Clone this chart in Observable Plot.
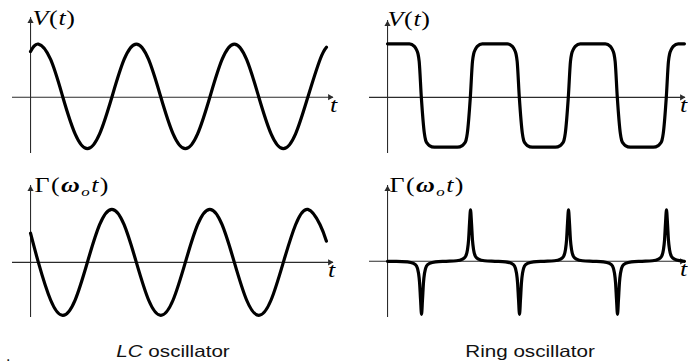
<!DOCTYPE html>
<html>
<head>
<meta charset="utf-8">
<script src="https://cdn.jsdelivr.net/npm/d3@7"></script>
<script src="https://cdn.jsdelivr.net/npm/@observablehq/plot@0.6"></script>
<style>
  html, body { margin: 0; padding: 0; background: #fff; overflow: hidden; }
  #fig { position: relative; width: 688px; height: 364px; background: #fff; }
  .cell { position: absolute; width: 344px; height: 165px; }
  .cell svg { display: block; }
  .cap {
    position: absolute; top: 342px; white-space: nowrap;
    font-family: "Liberation Sans", Arial, sans-serif; font-size: 16.5px; line-height: 19px; color: #111;
    transform: translateX(-50%) scaleX(1.25);
  }
  .stray { position: absolute; left: 6px; top: 350px; font-family: "Liberation Sans", Arial, sans-serif; font-size: 16px; line-height: 12px; height: 12px; color: #111; }
</style>
</head>
<body>
<div id="fig">
  <div class="cell" id="lc-v" style="left:0;top:0"></div>
  <div class="cell" id="ring-v" style="left:344px;top:0"></div>
  <div class="cell" id="lc-isf" style="left:0;top:165px"></div>
  <div class="cell" id="ring-isf" style="left:344px;top:165px"></div>
  <div class="cap" style="left:172.5px"><i>LC</i> oscillator</div>
  <div class="cap" style="left:530px">Ring oscillator</div>
  <div class="stray">.</div>
</div>
<script>
// Time is measured in oscillation periods, amplitudes relative to the peak.

// LC oscillator: sampled every eighth of a period
const lcTime = [0, 0.08, 0.205, 0.33, 0.455, 0.58, 0.705, 0.83, 0.955,
  1.08, 1.205, 1.33, 1.455, 1.58, 1.705, 1.83, 1.955,
  2.08, 2.205, 2.33, 2.455, 2.58, 2.705, 2.83, 2.955, 3.02];
const lcVoltage = [0.86, 1.0, 0.71, 0, -0.69, -0.97, -0.69, 0, 0.71,
  1.0, 0.71, 0, -0.69, -0.97, -0.69, 0, 0.71,
  1.0, 0.71, 0, -0.69, -0.97, -0.69, 0, 0.71, 0.94];
const lcISF = [0.55, 0, -0.71, -1.0, -0.71, 0, 0.71, 1.0, 0.71,
  0, -0.71, -1.0, -0.71, 0, 0.71, 1.0, 0.71,
  0, -0.71, -1.0, -0.71, 0, 0.71, 1.0, 0.71, 0.40];

// Ring oscillator output: flat rails joined by fast, rounded edges
const ringVoltageTime = [0,
  0.223, 0.274, 0.295, 0.311, 0.323, 0.345, 0.376, 0.389, 0.406, 0.427, 0.478,
  0.712, 0.763, 0.784, 0.801, 0.814, 0.845, 0.867, 0.879, 0.895, 0.916, 0.967,
  1.223, 1.274, 1.295, 1.311, 1.323, 1.345, 1.376, 1.389, 1.406, 1.427, 1.478,
  1.712, 1.763, 1.784, 1.801, 1.814, 1.845, 1.867, 1.879, 1.895, 1.916, 1.967,
  2.223, 2.274, 2.295, 2.311, 2.323, 2.345, 2.376, 2.389, 2.406, 2.427, 2.478,
  2.712, 2.763, 2.784, 2.801, 2.814, 2.845, 2.867, 2.879, 2.895, 2.916, 2.967,
  3.03];
const ringVoltage = [1.01,
  1.01, 0.96, 0.90, 0.82, 0.68, 0, -0.68, -0.81, -0.87, -0.91, -0.94,
  -0.94, -0.91, -0.87, -0.81, -0.68, 0, 0.68, 0.82, 0.90, 0.96, 1.01,
  1.01, 0.96, 0.90, 0.82, 0.68, 0, -0.68, -0.81, -0.87, -0.91, -0.94,
  -0.94, -0.91, -0.87, -0.81, -0.68, 0, 0.68, 0.82, 0.90, 0.96, 1.01,
  1.01, 0.96, 0.90, 0.82, 0.68, 0, -0.68, -0.81, -0.87, -0.91, -0.94,
  -0.94, -0.91, -0.87, -0.81, -0.68, 0, 0.68, 0.82, 0.90, 0.96, 1.01,
  1.01];

// Ring oscillator ISF: narrow spikes at each transition
const ringISFTime = [0, 0.092,
  0.204, 0.265, 0.296, 0.316, 0.327, 0.337, 0.347, 0.357, 0.367, 0.378, 0.398, 0.429, 0.49, 0.597,
  0.704, 0.765, 0.796, 0.816, 0.827, 0.837, 0.847, 0.857, 0.867, 0.878, 0.898, 0.929, 0.99, 1.097,
  1.204, 1.265, 1.296, 1.316, 1.327, 1.337, 1.347, 1.357, 1.367, 1.378, 1.398, 1.429, 1.49, 1.597,
  1.704, 1.765, 1.796, 1.816, 1.827, 1.837, 1.847, 1.857, 1.867, 1.878, 1.898, 1.929, 1.99, 2.097,
  2.204, 2.265, 2.296, 2.316, 2.327, 2.337, 2.347, 2.357, 2.367, 2.378, 2.398, 2.429, 2.49, 2.597,
  2.704, 2.765, 2.796, 2.816, 2.827, 2.837, 2.847, 2.857, 2.867, 2.878, 2.898, 2.929, 2.99, 3.03];
const ringISF = [0, 0,
  -0.01, -0.04, -0.09, -0.22, -0.40, -0.72, -1.0, -0.72, -0.40, -0.22, -0.09, -0.04, -0.01, 0,
  0.01, 0.04, 0.09, 0.22, 0.40, 0.72, 0.97, 0.72, 0.40, 0.22, 0.09, 0.04, 0.01, 0,
  -0.01, -0.04, -0.09, -0.22, -0.40, -0.72, -1.0, -0.72, -0.40, -0.22, -0.09, -0.04, -0.01, 0,
  0.01, 0.04, 0.09, 0.22, 0.40, 0.72, 0.97, 0.72, 0.40, 0.22, 0.09, 0.04, 0.01, 0,
  -0.01, -0.04, -0.09, -0.22, -0.40, -0.72, -1.0, -0.72, -0.40, -0.22, -0.09, -0.04, -0.01, 0,
  0.01, 0.04, 0.09, 0.22, 0.40, 0.72, 0.97, 0.72, 0.40, 0.22, 0.09, 0.04, 0.01, 0];

// Axis extents (time axis runs a little left of the origin)
const lcAxisTime = [-0.184, 3.092];
const ringAxisTime = [-0.184, 3.041];
const lcVoltageAxis = [-1.06, 1.50];
const ringVoltageAxis = [-1.06, 1.45];
const lcISFAxis = [-1.04, 1.45];
const ringISFAxis = [-1.06, 1.43];

// Axis titles, split into runs of roman / italic / subscript glyphs
const voltageLabel = [["V", "italic"], ["(", "roman"], ["t", "italic"], [")", "roman"]];
const isfLabel = [["Γ", "roman"], ["(", "roman"], ["ω", "bold-italic"], ["o", "subscript"], ["t", "italic"], [")", "roman"]];
const timeLabel = "t";

const SERIF = "'Liberation Serif', 'Times New Roman', serif";
const AXIS = "#2b2b2b";
const STRETCH = 1.3;

function stretchText(el, sx) {
  const tr = el.getAttribute("transform") || "";
  const x = el.getAttribute("x"), y = el.getAttribute("y");
  let pre = tr;
  if (x != null || y != null) {
    pre += ` translate(${+x || 0},${+y || 0})`;
    el.removeAttribute("x"); el.removeAttribute("y");
  }
  el.setAttribute("transform", `${pre} scale(${sx},1)`);
}

function setRuns(el, runs) {
  el.textContent = "";
  let shift = 0;
  for (const [s, style] of runs) {
    const ts = document.createElementNS("http://www.w3.org/2000/svg", "tspan");
    ts.textContent = s;
    let target = 0;
    if (style.includes("italic")) ts.setAttribute("font-style", "italic");
    if (style.includes("bold")) ts.setAttribute("font-weight", "bold");
    if (style === "subscript") {
      ts.setAttribute("font-style", "italic");
      ts.setAttribute("font-size", "13");
      target = 4;
    }
    if (target !== shift) { ts.setAttribute("dy", target - shift); shift = target; }
    el.appendChild(ts);
  }
}

function panel(id, spec) {
  const pts = spec.time.map((t, i) => ({t, v: spec.values[i]}));
  const [x0, x1] = spec.xDomain, [y0, y1] = spec.yDomain;
  const labelText = spec.label.map(d => d[0]).join("");
  const svg = Plot.plot({
    width: 344, height: 165,
    marginTop: spec.margin[0], marginRight: spec.margin[1], marginBottom: spec.margin[2], marginLeft: spec.margin[3],
    x: {domain: spec.xDomain, axis: null},
    y: {domain: spec.yDomain, axis: null},
    style: {background: "transparent", overflow: "hidden"},
    marks: [
      Plot.ruleY([0], {x1: x0, x2: x1, stroke: AXIS, strokeWidth: 1.1}),
      Plot.ruleX([0], {y1: y0, y2: y1, stroke: AXIS, strokeWidth: 1.1}),
      Plot.dot([0], {x: x1, y: 0, symbol: "triangle", rotate: 90, r: 2.3, fill: AXIS, stroke: "none", dx: -3.6}),
      Plot.dot([0], {x: 0, y: y1, symbol: "triangle", r: 2.3, fill: AXIS, stroke: "none", dy: 3.6}),
      Plot.line(pts, {x: "t", y: "v", curve: spec.curve, stroke: "#000", strokeWidth: 3.2,
        strokeLinejoin: "round", strokeLinecap: "round"}),
      Plot.text([labelText], {x: 0, y: y1, text: d => d, textAnchor: "start", lineAnchor: "bottom",
        dx: spec.labelOffset[0], dy: spec.labelOffset[1], fontFamily: SERIF, fontSize: 20, fill: "#000"}),
      Plot.text([timeLabel], {x: x1, y: 0, text: d => d, textAnchor: "middle", lineAnchor: "bottom",
        dx: spec.tOffset[0], dy: spec.tOffset[1], fontFamily: SERIF, fontSize: 20, fontStyle: "italic", fill: "#000"})
    ]
  });
  svg.querySelectorAll("text").forEach(el => {
    if (el.textContent === labelText) {
      setRuns(el, spec.label);
      el.setAttribute("letter-spacing", spec.labelSpacing);
      stretchText(el, STRETCH);
    } else if (el.textContent === timeLabel) {
      stretchText(el, STRETCH);
    }
  });
  document.getElementById(id).appendChild(svg);
}

panel("lc-v", {time: lcTime, values: lcVoltage, curve: "natural", xDomain: lcAxisTime, yDomain: lcVoltageAxis,
  margin: [17, 11, 12, 12], label: voltageLabel, labelOffset: [2, 7.5], labelSpacing: 0.5, tOffset: [0, 15]});
panel("ring-v", {time: ringVoltageTime, values: ringVoltage, curve: "monotone-x", xDomain: ringAxisTime, yDomain: ringVoltageAxis,
  margin: [20, 3, 12, 25], label: voltageLabel, labelOffset: [0, 5], labelSpacing: 0.5, tOffset: [-2, 15]});
panel("lc-isf", {time: lcTime, values: lcISF, curve: "natural", xDomain: lcAxisTime, yDomain: lcISFAxis,
  margin: [20, 11, 13, 12], label: isfLabel, labelOffset: [4, 6], labelSpacing: 1.1, tOffset: [-2, 15]});
panel("ring-isf", {time: ringISFTime, values: ringISF, curve: "monotone-x", xDomain: ringAxisTime, yDomain: ringISFAxis,
  margin: [20, 3, 13, 25], label: isfLabel, labelOffset: [2, 6], labelSpacing: 1.1, tOffset: [-2, 15]});
</script>
</body>
</html>
